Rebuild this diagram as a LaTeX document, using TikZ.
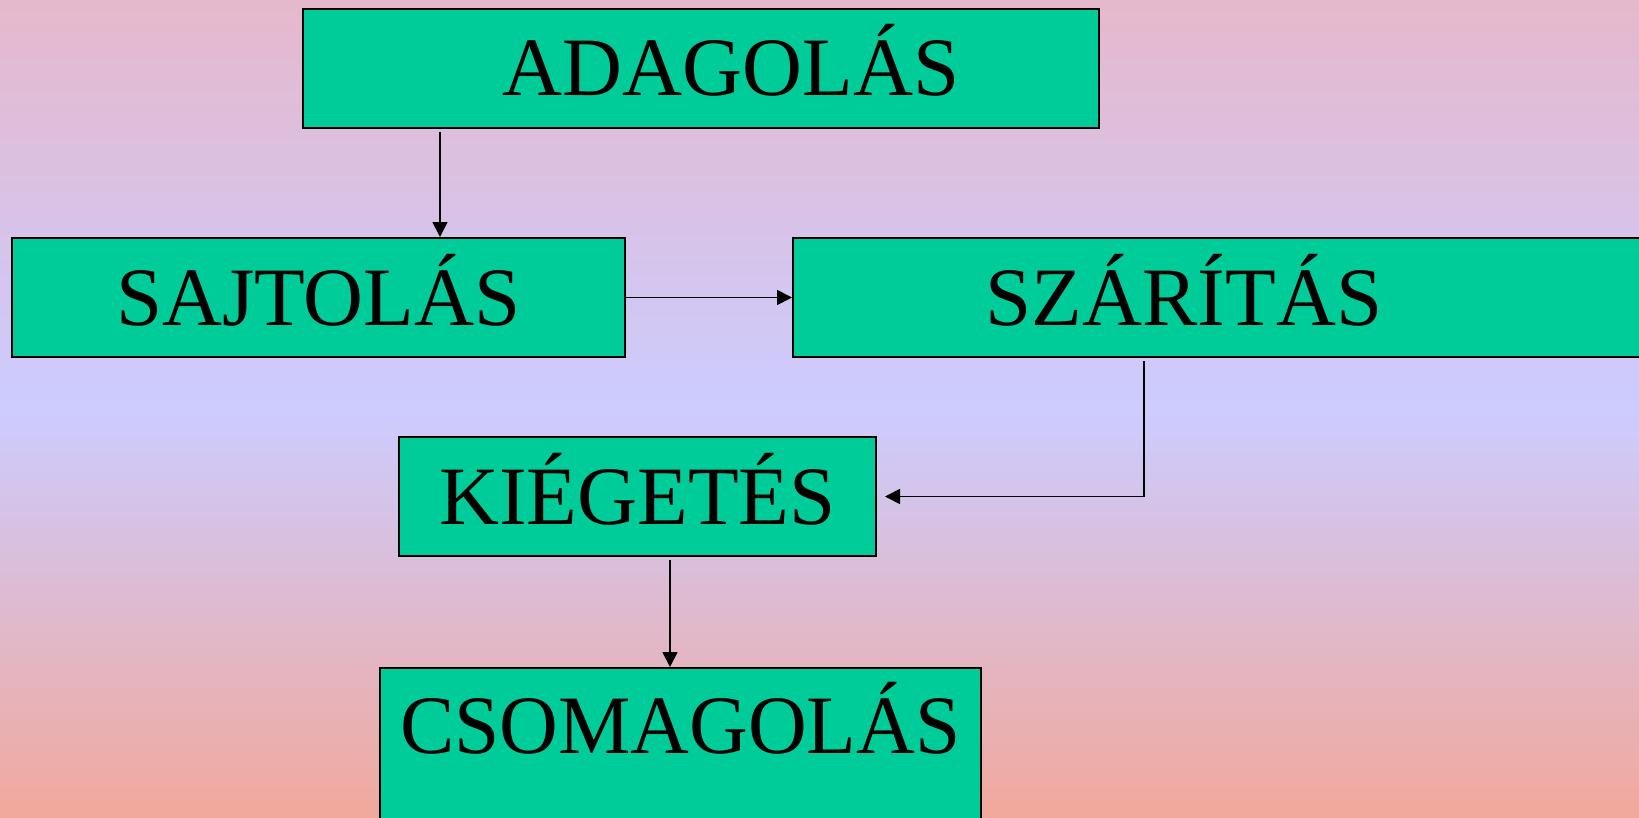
\documentclass[tikz,border=0pt]{standalone}
\usepackage{fontspec}
\setmainfont{Liberation Serif}
\usetikzlibrary{arrows.meta}
\definecolor{bgtop}{RGB}{230,184,204}
\definecolor{bgmid}{RGB}{204,204,255}
\definecolor{bgbot}{RGB}{242,168,156}
\definecolor{boxgreen}{RGB}{0,204,153}
\tikzset{
	stage/.style={draw=black, line width=2pt, fill=boxgreen, inner sep=0pt,
		text height=55pt, text depth=0pt, minimum height=119pt,
		font=\fontsize{83}{88}\selectfont},
	flow/.style={line width=1.8pt, -{Triangle[length=15pt,width=15pt]}}
}
\begin{document}
\begin{tikzpicture}[x=1pt,y=-1pt]
		\useasboundingbox (0,0) rectangle (1639,817);
		\fill[top color=bgtop, bottom color=bgmid] (0,0) rectangle (1639,408);
		\fill[top color=bgmid, bottom color=bgbot] (0,408) rectangle (1639,817);
		\node (adag) at (701,68) [stage, minimum width=796pt] {\hspace*{60pt}ADAGOLÁS};
		\node (sajt) at (318.5,297.5) [stage, minimum width=613pt] {SAJTOLÁS};
		\node (szar) at (1229,297.5) [stage, minimum width=872pt] {SZÁRÍTÁS\hspace*{90pt}};
		\node (kieg) at (637.5,496.5) [stage, minimum width=477pt] {KIÉGETÉS};
		\node (csom) at (680.5,667) [stage, anchor=north, minimum width=601pt, inner ysep=30pt, text depth=50pt, minimum height=0pt] {\scalebox{0.98}[1]{CSOMAGOLÁS}};
		\draw[flow] ([xshift=138pt,yshift=-3pt]adag.south west) -- ([xshift=138pt]adag.south west |- sajt.north);
		\draw[flow] (sajt.east) -- (szar.west);
		\draw[flow] ([xshift=352pt,yshift=-3pt]szar.south west) |- ([xshift=8pt]kieg.east);
		\draw[flow] ([xshift=32.5pt,yshift=-3pt]kieg.south) -- ([xshift=32.5pt]kieg.south |- csom.north);
	\end{tikzpicture}
\end{document}
